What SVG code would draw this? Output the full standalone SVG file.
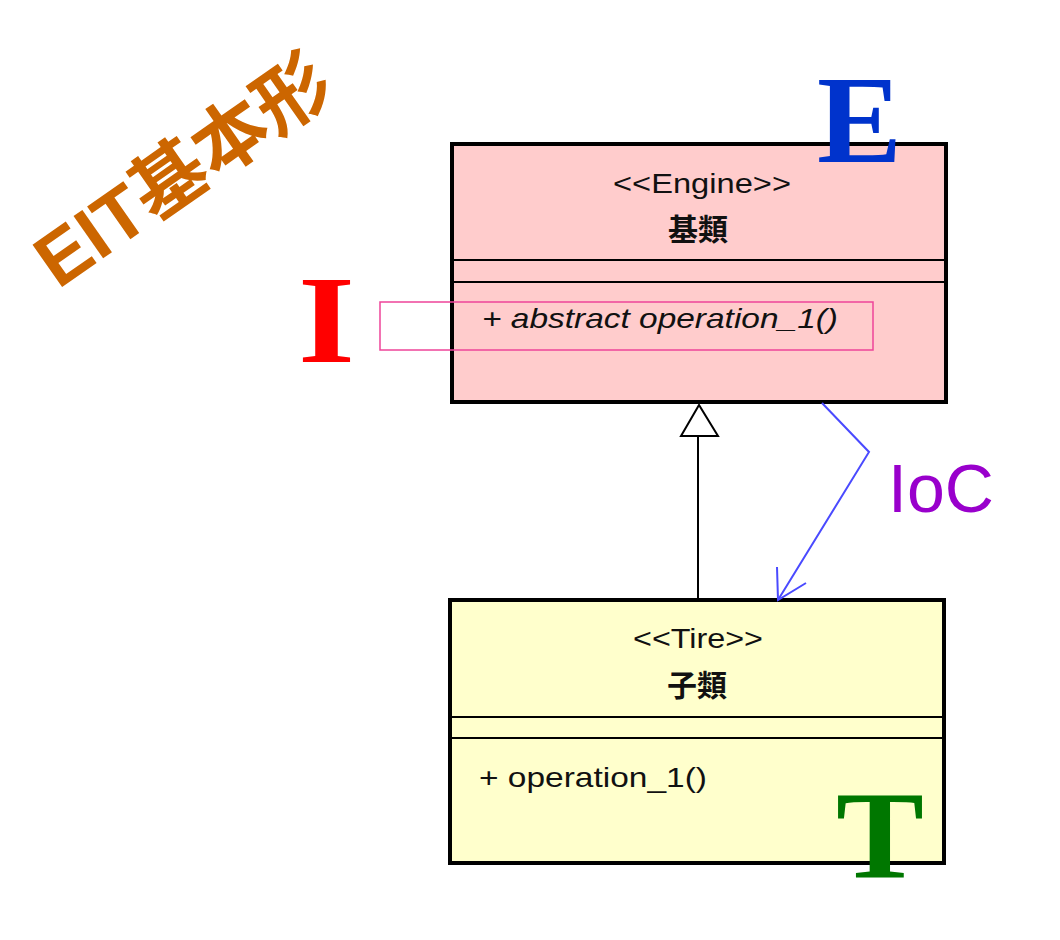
<svg xmlns="http://www.w3.org/2000/svg" width="1060" height="940" viewBox="0 0 1060 940">
<defs>
<style>
.box{stroke:#000;stroke-width:4}
.div{stroke:#000;stroke-width:2}
.uml{font-family:"Liberation Sans","Noto Sans CJK TC",sans-serif;fill:#111}
.cjk{font-family:"Noto Sans CJK TC",sans-serif;font-weight:bold;fill:#111}
.big{font-family:"Liberation Serif",serif;font-weight:bold}
</style>
</defs>
<rect width="1060" height="940" fill="#fff"/>
<g id="title">
<text x="58" y="290" transform="rotate(-35 58 290)" font-family="Liberation Sans,'Noto Sans CJK TC',sans-serif" font-weight="bold" font-size="75" fill="#cc6600">EIT基本形</text>
</g>
<g id="engine">
<rect class="box" x="452" y="144" width="494" height="258" fill="#ffcccc"/>
<line class="div" x1="452" y1="260" x2="946" y2="260"/>
<line class="div" x1="452" y1="282" x2="946" y2="282"/>
<text class="uml" x="702" y="193" font-size="28" text-anchor="middle" textLength="178" lengthAdjust="spacingAndGlyphs">&lt;&lt;Engine&gt;&gt;</text>
<text class="cjk" x="698" y="240" font-size="30" text-anchor="middle">基類</text>
<text class="uml" x="482" y="328" font-size="28" font-style="italic" textLength="356" lengthAdjust="spacingAndGlyphs">+ abstract operation_1()</text>
</g>
<g id="tire">
<rect class="box" x="450" y="600" width="494" height="263" fill="#ffffcc"/>
<line class="div" x1="450" y1="717" x2="944" y2="717"/>
<line class="div" x1="450" y1="738" x2="944" y2="738"/>
<text class="uml" x="698" y="648" font-size="28" text-anchor="middle" textLength="130" lengthAdjust="spacingAndGlyphs">&lt;&lt;Tire&gt;&gt;</text>
<text class="cjk" x="697" y="696" font-size="30" text-anchor="middle">子類</text>
<text class="uml" x="479" y="787" font-size="28" textLength="228" lengthAdjust="spacingAndGlyphs">+ operation_1()</text>
</g>
<g id="highlight">
<rect x="380" y="302" width="493" height="48" fill="none" stroke="#ee4499" stroke-width="1.5"/>
</g>
<g id="connectors">
<line x1="698" y1="598" x2="698" y2="436" stroke="#000" stroke-width="2"/>
<polygon points="699,405 681,436 718,436" fill="#fff" stroke="#000" stroke-width="2"/>
<polyline points="822,403 869,452 778,600" fill="none" stroke="#4a4aff" stroke-width="2"/>
<polyline points="777,567 778,600 806,583" fill="none" stroke="#4a4aff" stroke-width="2"/>
</g>
<g id="labels">
<text x="888" y="512" font-family="Liberation Sans,sans-serif" font-size="68" fill="#9900cc">IoC</text>
<text class="big" x="817" y="162" font-size="125" fill="#0033cc" textLength="85" lengthAdjust="spacingAndGlyphs">E</text>
<text class="big" x="298" y="362" font-size="124" fill="#ff0000" textLength="57" lengthAdjust="spacingAndGlyphs">I</text>
<text class="big" x="836" y="878" font-size="124" fill="#007700" textLength="88" lengthAdjust="spacingAndGlyphs">T</text>
</g>
</svg>
